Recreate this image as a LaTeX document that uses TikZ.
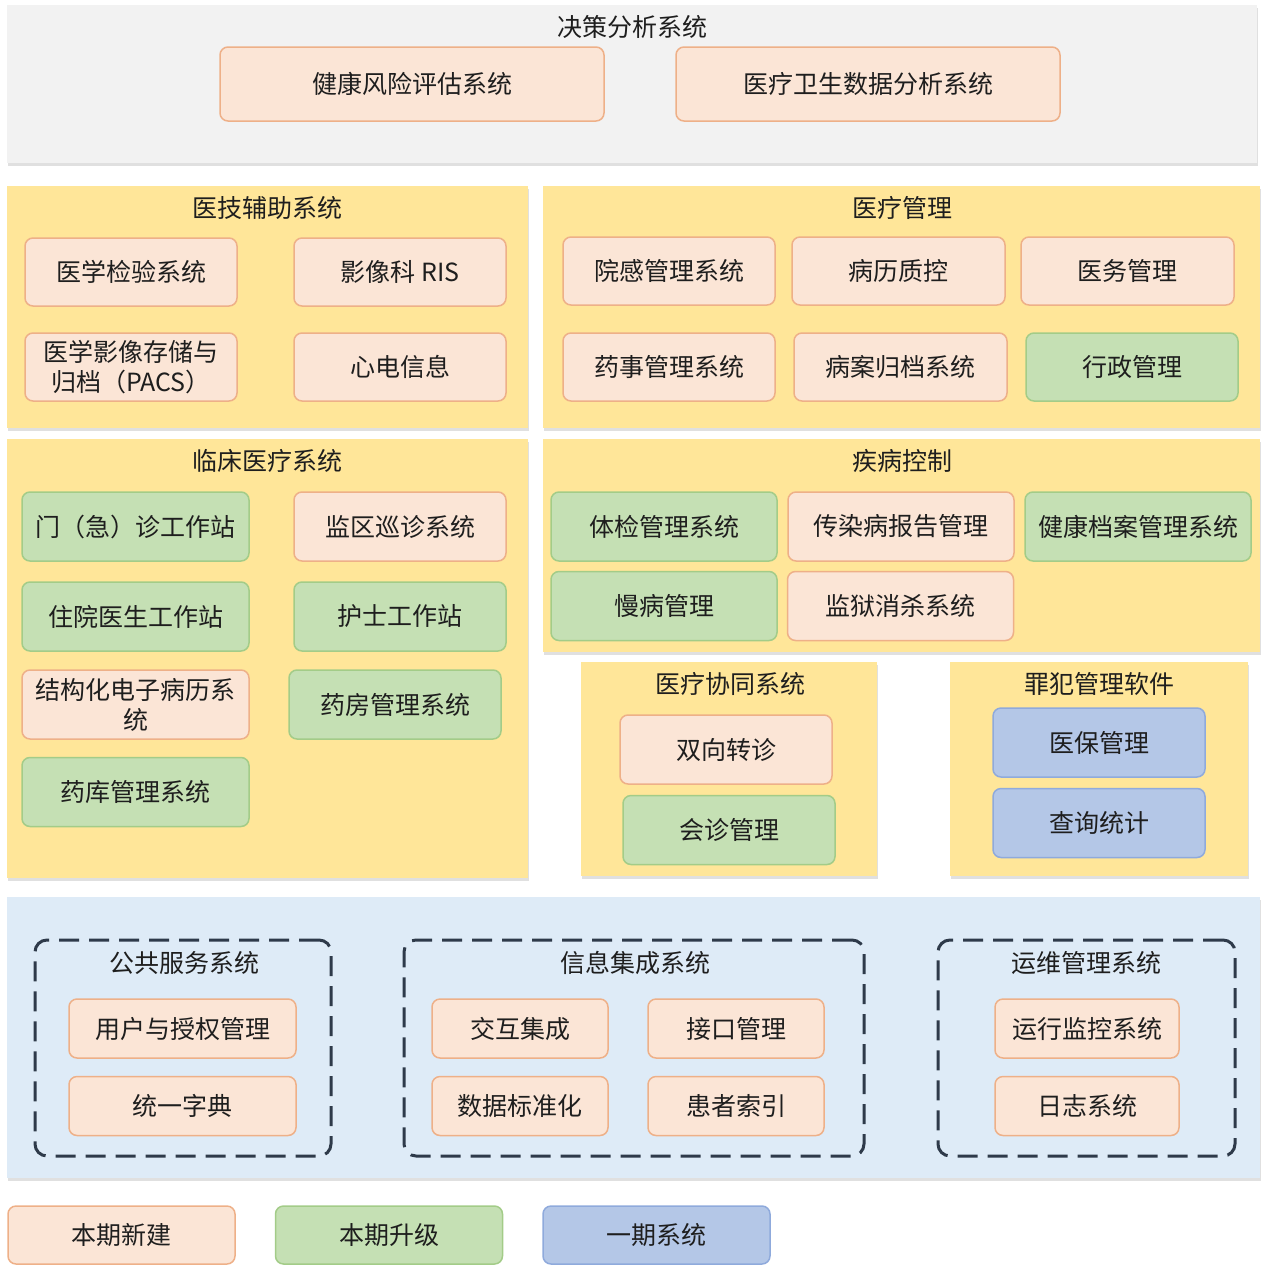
\documentclass[tikz,border=0pt]{standalone}
\usepackage{fontspec}
\setmainfont{Noto Sans CJK SC}
\usepackage{xcolor}
\usetikzlibrary{shadows}
\definecolor{peachfill}{HTML}{FBE5D6}
\definecolor{peachline}{HTML}{EEB088}
\definecolor{greenfill}{HTML}{C5E0B4}
\definecolor{greenline}{HTML}{A3CC88}
\definecolor{bluefill}{HTML}{B4C7E7}
\definecolor{blueline}{HTML}{8FAADC}
\definecolor{panelyellow}{HTML}{FFE699}
\definecolor{panelgray}{HTML}{F2F2F2}
\definecolor{panelblue}{HTML}{DEEBF7}
\definecolor{dashline}{HTML}{2E3A4A}
\definecolor{txt}{HTML}{1E1E1E}

\begin{document}
\begin{tikzpicture}[
    x=1pt, y=-1pt,
    every node/.style={font=\fontsize{25}{30}\selectfont, text=txt, inner sep=2pt},
    sz/.style 2 args={minimum width=#1pt, minimum height=#2pt},
    panel/.style={fill=#1, drop shadow={shadow xshift=1pt, shadow yshift=-3pt, fill=black!12, opacity=1}},
    box/.style={draw=#1, rounded corners=8pt, line width=1.5pt, align=center, sz={212}{68}},
    newbox/.style={box=peachline, fill=peachfill},
    upbox/.style={box=greenline, fill=greenfill},
    oldbox/.style={box=blueline, fill=bluefill},
    grp/.style={draw=dashline, line width=3pt, dash pattern=on 20pt off 10pt, rounded corners=12pt},
    ttl/.style={}
]
\useasboundingbox (0,0) rectangle (1269,1266);

% panels
\node[panel=panelgray, sz={1250}{158}] (pdec) at (632,84) {};
\node[panel=panelyellow, sz={521}{242}] (pmed) at (267.5,307) {};
\node[panel=panelyellow, sz={717}{242}] (pmgt) at (901.5,307) {};
\node[panel=panelyellow, sz={521}{439}] (pcli) at (267.5,658.5) {};
\node[panel=panelyellow, sz={717}{213}] (pdis) at (901.5,545.5) {};
\node[panel=panelyellow, sz={296}{214}] (pcoo) at (729,769) {};
\node[panel=panelyellow, sz={298}{214}] (pcri) at (1099,769) {};
\node[panel=panelblue, sz={1253}{281}] (pbase) at (633.5,1037.5) {};

% titles
\node[ttl] (tdec) at (632,27) {决策分析系统};
\node[ttl] (tmed) at (267,208) {医技辅助系统};
\node[ttl] (tmgt) at (902,208) {医疗管理};
\node[ttl] (tcli) at (267,461) {临床医疗系统};
\node[ttl] (tdis) at (902,461) {疾病控制};
\node[ttl] (tcoo) at (730,684) {医疗协同系统};
\node[ttl] (tcri) at (1099,684) {罪犯管理软件};

% decision
\node[newbox, sz={384}{74}] (risk) at (412,84) {健康风险评估系统};
\node[newbox, sz={384}{74}] (data) at (868,84) {医疗卫生数据分析系统};

% medical technology
\node[newbox] (lab) at (131,272) {医学检验系统};
\node[newbox] (ris) at (400,272) {影像科 RIS};
\node[newbox] (pacs) at (131,367) {医学影像存储与\\归档（PACS）};
\node[newbox] (ecg) at (400,367) {心电信息};

% medical management
\node[newbox] (infect) at (669,271) {院感管理系统};
\node[newbox, sz={213}{68}] (qc) at (898.5,271) {病历质控};
\node[newbox, sz={213}{68}] (affair) at (1127.5,271) {医务管理};
\node[newbox] (pharm) at (669,367) {药事管理系统};
\node[newbox, sz={213}{68}] (archive) at (900.5,367) {病案归档系统};
\node[upbox] (admin) at (1132,367) {行政管理};

% clinical
\node[upbox, sz={227}{69}] (clinic) at (135.5,526.5) {门（急）诊工作站};
\node[newbox, sz={212}{69}] (ward) at (400,526.5) {监区巡诊系统};
\node[upbox, sz={227}{69}] (doctor) at (135.5,616.5) {住院医生工作站};
\node[upbox, sz={212}{69}] (nurse) at (400,616.5) {护士工作站};
\node[newbox, sz={227}{69}] (emr) at (135.5,704.5) {结构化电子病历系\\统};
\node[upbox, sz={212}{69}] (drug) at (395,704.5) {药房管理系统};
\node[upbox, sz={227}{69}] (store) at (135.5,792) {药库管理系统};

% disease control
\node[upbox, sz={226}{69}] (exam) at (664,526.5) {体检管理系统};
\node[newbox, sz={226}{69}] (report) at (901,526.5) {传染病报告管理};
\node[upbox, sz={226}{69}] (record) at (1138,526.5) {健康档案管理系统};
\node[upbox, sz={226}{69}] (chronic) at (664,606) {慢病管理};
\node[newbox, sz={226}{69}] (disinf) at (900.5,606) {监狱消杀系统};

% cooperation
\node[newbox, sz={212}{69}] (refer) at (726,749.5) {双向转诊};
\node[upbox, sz={212}{69}] (consult) at (729,830) {会诊管理};

% criminal
\node[oldbox, sz={212}{69}] (insure) at (1099,742.5) {医保管理};
\node[oldbox, sz={212}{69}] (query) at (1099,823) {查询统计};

% base groups
\node[grp, sz={296}{216}] (gpub) at (183,1048) {};
\node[grp, sz={460}{216}] (gint) at (634,1048) {};
\node[grp, sz={297}{216}] (gops) at (1086.5,1048) {};
\node[ttl] (tpub) at (184,963) {公共服务系统};
\node[ttl] (tint) at (635,963) {信息集成系统};
\node[ttl] (tops) at (1086,963) {运维管理系统};

\node[newbox, sz={227}{59}] (user) at (182.5,1028.5) {用户与授权管理};
\node[newbox, sz={227}{59}] (dict) at (182.5,1106) {统一字典};
\node[newbox, sz={176}{59}] (inter) at (520,1028.5) {交互集成};
\node[newbox, sz={176}{59}] (iface) at (736,1028.5) {接口管理};
\node[newbox, sz={176}{59}] (std) at (520,1106) {数据标准化};
\node[newbox, sz={176}{59}] (pidx) at (736,1106) {患者索引};
\node[newbox, sz={184}{59}] (mon) at (1087,1028.5) {运行监控系统};
\node[newbox, sz={184}{59}] (log) at (1087,1106) {日志系统};

% legend
\node[newbox, sz={227}{58}] (lnew) at (121.5,1235) {本期新建};
\node[upbox, sz={227}{58}] (lup) at (389,1235) {本期升级};
\node[oldbox, sz={227}{58}] (lold) at (656.5,1235) {一期系统};
\end{tikzpicture}
\end{document}
